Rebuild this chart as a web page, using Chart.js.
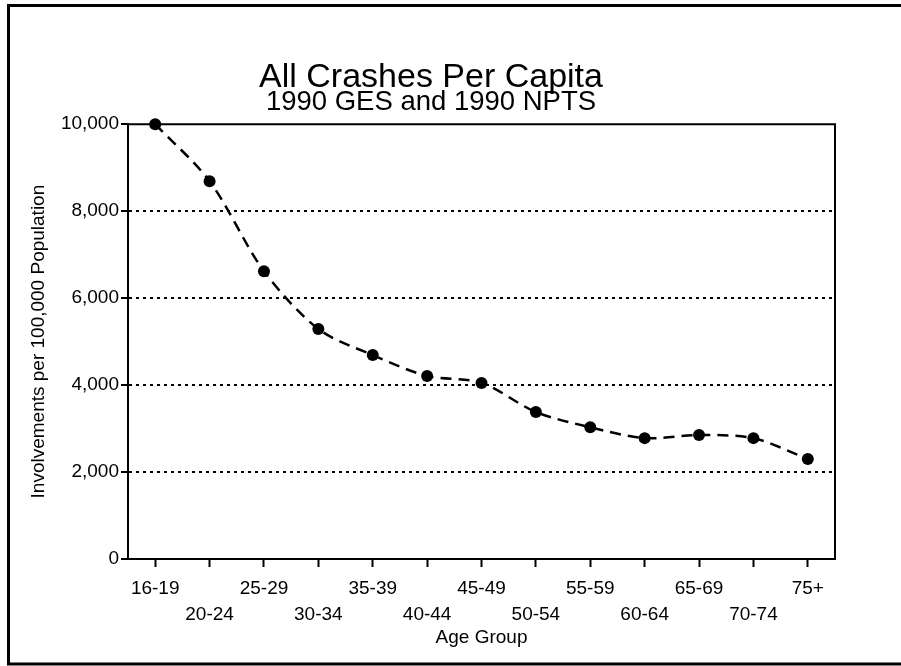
<!DOCTYPE html>
<html>
<head>
<meta charset="utf-8">
<script src="https://cdn.jsdelivr.net/npm/chart.js@4.4.1/dist/chart.umd.min.js"></script>
<style>
  html, body { margin: 0; padding: 0; background: #fff; }
  #wrap { width: 901px; height: 666px; position: relative; }
</style>
</head>
<body>
<div id="wrap"><canvas id="crashes" width="901" height="666"></canvas></div>
<script>
// =====================
// All Crashes Per Capita
// =====================
var ageGroups = ["16-19", "20-24", "25-29", "30-34", "35-39", "40-44", "45-49",
                 "50-54", "55-59", "60-64", "65-69", "70-74", "75+"];
var involvements = [10000, 8690, 6620, 5290, 4690, 4210, 4050,
                    3380, 3030, 2780, 2850, 2780, 2300];
var yTicks = [0, 2000, 4000, 6000, 8000, 10000];

var FONT = "'Liberation Sans', Arial, sans-serif";

// solid box round the plot + the page frame (top, left, bottom)
var framePlugin = {
  id: 'frame',
  afterDraw: function (chart) {
    var ctx = chart.ctx, a = chart.chartArea;
    ctx.save();
    ctx.strokeStyle = '#000';
    ctx.lineWidth = 2;
    ctx.beginPath();
    ctx.moveTo(a.left, a.bottom);
    ctx.lineTo(a.left, a.top);
    ctx.lineTo(a.right, a.top);
    ctx.lineTo(a.right, a.bottom);
    ctx.stroke();
    ctx.lineWidth = 3;
    ctx.beginPath();
    ctx.moveTo(901, 5.5);
    ctx.lineTo(8.5, 5.5);
    ctx.lineTo(8.5, 664);
    ctx.lineTo(901, 664);
    ctx.stroke();
    ctx.restore();
  }
};

var ctx = document.getElementById("crashes").getContext("2d");

var crashChart = new Chart(ctx, {
  type: 'line',
  data: {
    labels: ageGroups,
    datasets: [{
      data: involvements,
      borderColor: '#000',
      backgroundColor: '#000',
      borderWidth: 2.5,
      borderDash: [11, 7],
      tension: 0.3,
      pointRadius: 6,
      pointBorderWidth: 0,
      clip: false
    }]
  },
  plugins: [framePlugin],
  options: {
    responsive: false,
    animation: false,
    layout: { padding: { top: 64, left: 27, right: 66, bottom: 17 } },
    plugins: {
      legend: { display: false },
      tooltip: { enabled: false },
      title: {
        display: true,
        text: 'All Crashes Per Capita',
        color: '#000',
        font: { family: FONT, size: 34, weight: 'normal', lineHeight: 0.8 },
        padding: { top: 0, bottom: 0 }
      },
      subtitle: {
        display: true,
        text: '1990 GES and 1990 NPTS',
        color: '#000',
        font: { family: FONT, size: 27.5, weight: 'normal', lineHeight: 0.8 },
        padding: { top: 0, bottom: 11 }
      }
    },
    scales: {
      x: {
        offset: true,
        afterFit: function (scale) { scale.height = 90; },
        border: { display: true, color: '#000', width: 2 },
        grid: {
          drawOnChartArea: false,
          drawTicks: true,
          tickLength: 8,
          tickColor: '#000',
          tickWidth: 2,
          offset: false
        },
        ticks: {
          color: '#000',
          font: { family: FONT, size: 19, lineHeight: 1.35 },
          padding: 9,
          maxRotation: 0,
          autoSkip: false,
          callback: function (val, i) {
            return i % 2 === 1 ? ['', ageGroups[i]] : ageGroups[i];
          }
        },
        title: {
          display: true,
          text: 'Age Group',
          color: '#000',
          font: { family: FONT, size: 19 },
          padding: { top: 0, bottom: 0 }
        }
      },
      y: {
        min: 0,
        max: 10000,
        afterBuildTicks: function (scale) {
          scale.ticks = yTicks.map(function (v) { return { value: v }; });
        },
        afterFit: function (scale) { scale.width = 101; },
        border: { display: true, color: '#000', width: 2, dash: [3, 4] },
        grid: {
          color: function (c) {
            var v = c.tick ? c.tick.value : 0;
            return (v === 0 || v === 10000) ? 'rgba(0,0,0,0)' : '#000';
          },
          lineWidth: 2,
          drawTicks: true,
          tickLength: 7,
          tickColor: '#000',
          tickWidth: 2,
          tickBorderDash: []
        },
        ticks: {
          color: '#000',
          font: { family: FONT, size: 19 },
          padding: 2,
          callback: function (v) { return v.toLocaleString('en-US'); }
        },
        title: {
          display: true,
          text: 'Involvements per 100,000 Population',
          color: '#000',
          font: { family: FONT, size: 19 },
          padding: 0
        }
      }
    }
  }
});
</script>
</body>
</html>
